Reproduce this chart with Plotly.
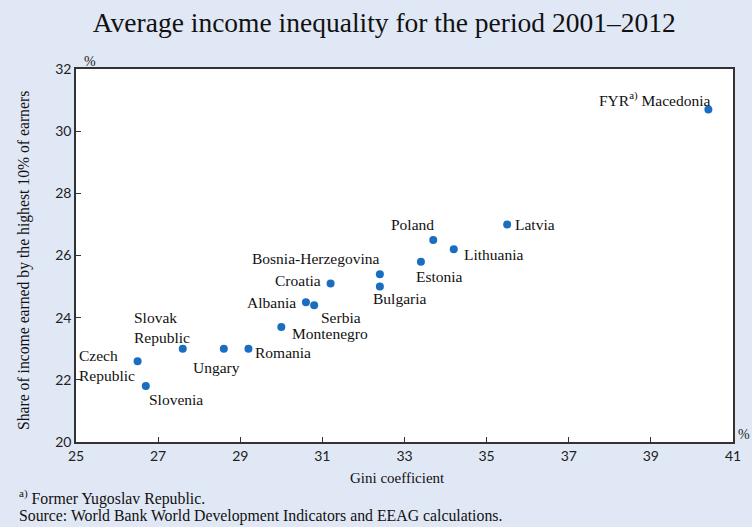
import plotly.graph_objects as go

countries = ["FYR<sup>a)</sup> Macedonia", "Latvia", "Lithuania", "Poland", "Estonia",
             "Bosnia-Herzegovina", "Bulgaria", "Croatia", "Albania", "Serbia",
             "Montenegro", "Romania", "Ungary", "Slovak<br>Republic", "Czech<br>Republic",
             "Slovenia"]
gini = [40.4, 35.5, 34.2, 33.7, 33.4, 32.4, 32.4, 31.2, 30.6, 30.8, 30.0, 29.2, 28.6, 27.6, 26.5, 26.7]
top10_share = [30.7, 27.0, 26.2, 26.5, 25.8, 25.4, 25.0, 25.1, 24.5, 24.4, 23.7, 23.0, 23.0, 23.0, 22.6, 21.8]

# label placement: (xanchor, xshift, yshift)
label_pos = [
    ("right", 4, 10), ("left", 6, 0), ("left", 8, -5), ("center", -21, 15),
    ("center", 19, -15), ("center", -64, 16), ("center", 20, -12), ("right", -8, 3),
    ("right", -8, 0), ("center", 27, -12), ("left", 9, -7), ("left", 5, -4),
    ("center", -7, -19), ("center", -21, 21), ("right", -1, -4), ("center", 30, -13),
]

serif = "Liberation Serif"
bg = "#E1E8F5"

fig = go.Figure(go.Scatter(
    x=gini, y=top10_share, mode="markers",
    marker=dict(color="#1A6DC0", size=8),
    hoverinfo="skip",
))

for name, gx, sy, (anc, dx, dy) in zip(countries, gini, top10_share, label_pos):
    fig.add_annotation(x=gx, y=sy, text=name, showarrow=False, xanchor=anc,
                       xshift=dx, yshift=dy, align="left",
                       font=dict(family=serif, size=15.5, color="#111"))

fig.add_annotation(x=0, y=1, xref="paper", yref="paper", text="%", showarrow=False,
                   xanchor="left", yanchor="bottom", xshift=6, yshift=-2,
                   font=dict(family=serif, size=14, color="#222"))
fig.add_annotation(x=1, y=0, xref="paper", yref="paper", text="%", showarrow=False,
                   xanchor="left", yanchor="bottom", xshift=3, yshift=-2,
                   font=dict(family=serif, size=14, color="#222"))
# axis titles
fig.add_annotation(x=0, y=0.485, xref="paper", yref="paper", textangle=-90,
                   text="Share of income earned by the highest 10% of earners",
                   showarrow=False, xanchor="center", yanchor="middle", xshift=-52,
                   font=dict(family=serif, size=15.7, color="#111"))
fig.add_annotation(x=0.489, y=0, xref="paper", yref="paper", text="Gini coefficient",
                   showarrow=False, xanchor="center", yanchor="middle", yshift=-36,
                   font=dict(family=serif, size=15, color="#111"))
# footnotes
fig.add_annotation(x=0, y=0, xref="paper", yref="paper",
                   text="<sup>a)</sup> Former Yugoslav Republic.",
                   showarrow=False, xanchor="left", yanchor="middle", align="left",
                   xshift=-59, yshift=-55,
                   font=dict(family=serif, size=15.8, color="#111"))
fig.add_annotation(x=0, y=0, xref="paper", yref="paper",
                   text="Source: World Bank World Development Indicators and EEAG calculations.",
                   showarrow=False, xanchor="left", yanchor="middle", align="left",
                   xshift=-59, yshift=-74,
                   font=dict(family=serif, size=15.8, color="#111"))

fig.update_layout(
    width=752, height=527,
    paper_bgcolor=bg, plot_bgcolor="white",
    margin=dict(l=76, r=19, t=69, b=85, autoexpand=False),
    showlegend=False,
    title=dict(text="Average income inequality for the period 2001–2012",
               x=0.511, xanchor="center", y=0.958, yanchor="middle",
               font=dict(family=serif, size=27.5, color="#111")),
    xaxis=dict(range=[25, 41], dtick=2, tick0=25, ticks="inside", ticklen=5,
               tickcolor="#333", showline=True, linecolor="#333", linewidth=1.5,
               mirror=True, showgrid=False, zeroline=False, automargin=False,
               tickfont=dict(family="Lato", size=14, color="#222")),
    yaxis=dict(range=[20, 32], dtick=2, ticks="inside", ticklen=5,
               tickcolor="#333", showline=True, linecolor="#333", linewidth=1.5,
               mirror=True, showgrid=False, zeroline=False, automargin=False,
               tickfont=dict(family="Lato", size=14, color="#222")),
)

fig.write_html("out.html", config={"displayModeBar": False},
               post_script="document.body.style.margin='0';")
